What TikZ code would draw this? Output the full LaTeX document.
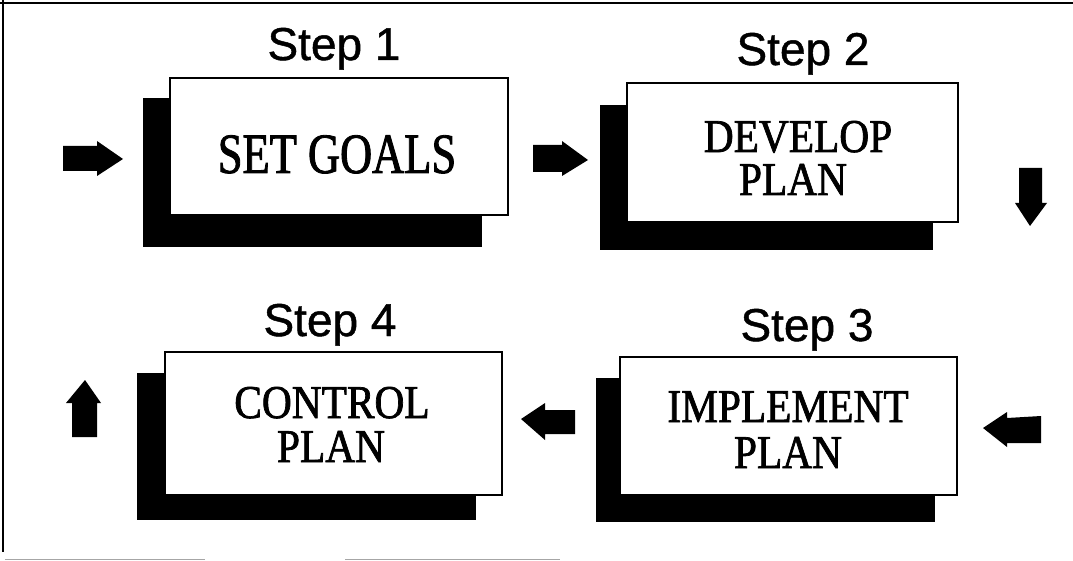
\documentclass[tikz,border=0pt]{standalone}
\usepackage{fontspec}
\setmainfont{Liberation Serif}
\newfontfamily\stepfont[FakeBold=1]{Liberation Sans}
\newfontfamily\boxfont[FakeStretch=0.88,FakeBold=1.5]{Liberation Serif}
\newfontfamily\goalfont[FakeStretch=0.78,FakeBold=1.5]{Liberation Serif}
\tikzset{
  whitebox/.style={draw=black, line width=2pt, fill=white, inner sep=0pt},
  shadowbox/.style={fill=black, draw=none, inner sep=0pt},
  steplabel/.style={anchor=base, inner sep=0pt, font=\stepfont\fontsize{46}{50}\selectfont},
  boxtext/.style={anchor=base, inner sep=0pt, font=\boxfont\fontsize{47}{50}\selectfont},
  goaltext/.style={anchor=base, inner sep=0pt, font=\goalfont\fontsize{57}{60}\selectfont},
  blockarrow/.style={fill=black, draw=none},
  frameline/.style={line width=2.5pt, black},
  faintline/.style={line width=1pt, black!35}
}
\begin{document}
\begin{tikzpicture}[x=1pt,y=-1pt]
\useasboundingbox (0,0) rectangle (1073,561);
% frame
\draw[frameline] (0,3) -- (1073,3);
\draw[frameline] (3,0) -- (3,552);
\draw[faintline] (5,559) -- (205,559);
\draw[faintline] (345,559) -- (560,559);

% shadows
\node[shadowbox, minimum width=339pt, minimum height=149pt] (s1) at (312.5,172.5) {};
\node[shadowbox, minimum width=333pt, minimum height=145pt] (s2) at (766.5,177.5) {};
\node[shadowbox, minimum width=339pt, minimum height=144pt] (s3) at (765.5,450) {};
\node[shadowbox, minimum width=339pt, minimum height=147pt] (s4) at (306.5,446.5) {};

% white boxes
\node[whitebox, minimum width=338pt, minimum height=137pt] (b1) at (339,146.5) {};
\node[whitebox, minimum width=331pt, minimum height=139pt] (b2) at (792.5,152.5) {};
\node[whitebox, minimum width=337pt, minimum height=138pt] (b3) at (788.5,426) {};
\node[whitebox, minimum width=337pt, minimum height=143pt] (b4) at (333.5,423.5) {};

% box texts
\node[goaltext] (t1) at (337,173) {SET GOALS};
\node[boxtext] (t2a) at (798,152) {DEVELOP};
\node[boxtext] (t2b) at (793,195) {PLAN};
\node[boxtext] (t3a) at (788,422) {IMPLEMENT};
\node[boxtext] (t3b) at (788,468) {PLAN};
\node[boxtext] (t4a) at (332,418) {CONTROL};
\node[boxtext] (t4b) at (331,462) {PLAN};

% step labels
\node[steplabel] (l1) at (334,60) {Step 1};
\node[steplabel] (l2) at (803,65) {Step 2};
\node[steplabel] (l3) at (807,341) {Step 3};
\node[steplabel] (l4) at (330,336) {Step 4};

% block arrows
\fill[blockarrow] (63,146) -- (97,146) -- (97,141) -- (123,159) -- (97,176) -- (97,171) -- (63,171) -- cycle;
\fill[blockarrow] (533,145) -- (562,145) -- (562,141) -- (588,160) -- (562,176) -- (562,172) -- (533,172) -- cycle;
\fill[blockarrow] (1019,168) -- (1042,168) -- (1042,203) -- (1047,203) -- (1030,226) -- (1015,203) -- (1019,203) -- cycle;
\fill[blockarrow] (1041,416) -- (1007,418) -- (1007,412) -- (983,428) -- (1007,447) -- (1007,443) -- (1041,443) -- cycle;
\fill[blockarrow] (575,410) -- (545,410) -- (545,403) -- (521,419) -- (545,440) -- (545,434) -- (575,434) -- cycle;
\fill[blockarrow] (72,437) -- (72,403) -- (66,403) -- (85,380) -- (101,403) -- (97,403) -- (97,437) -- cycle;
\end{tikzpicture}
\end{document}
